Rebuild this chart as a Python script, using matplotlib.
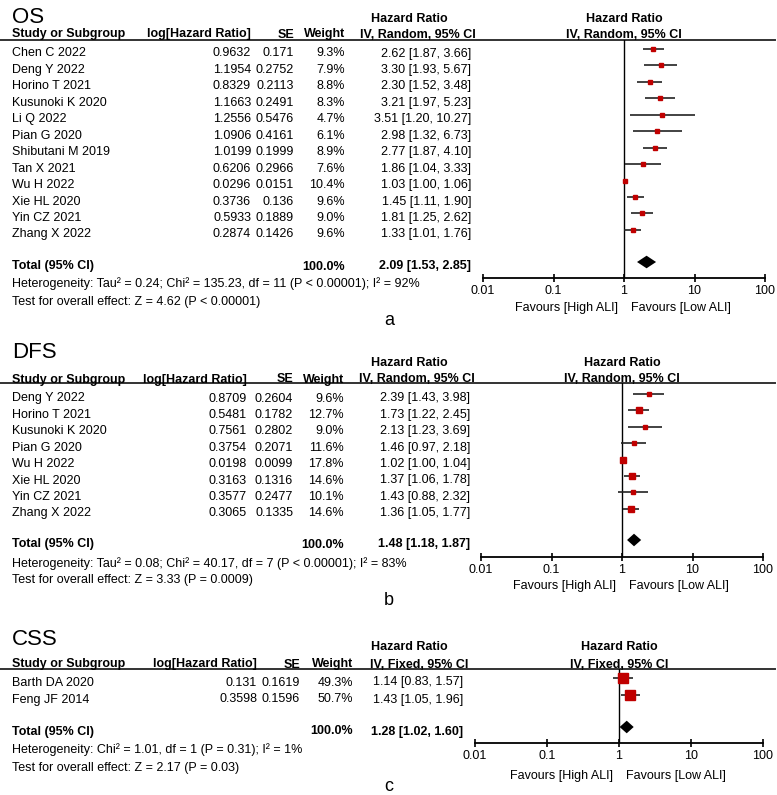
import matplotlib
matplotlib.use("Agg")
import matplotlib.pyplot as plt
from matplotlib.ticker import NullLocator

plt.rcParams['font.family'] = ['Liberation Sans', 'DejaVu Sans']

W, H = 777, 795

# ---- OS ----
os_study = ['Chen C 2022', 'Deng Y 2022', 'Horino T 2021', 'Kusunoki K 2020', 'Li Q 2022',
            'Pian G 2020', 'Shibutani M 2019', 'Tan X 2021', 'Wu H 2022', 'Xie HL 2020',
            'Yin CZ 2021', 'Zhang X 2022']
os_loghr = [0.9632, 1.1954, 0.8329, 1.1663, 1.2556, 1.0906, 1.0199, 0.6206, 0.0296, 0.3736, 0.5933, 0.2874]
os_se = [0.171, 0.2752, 0.2113, 0.2491, 0.5476, 0.4161, 0.1999, 0.2966, 0.0151, 0.136, 0.1889, 0.1426]
os_weight = [9.3, 7.9, 8.8, 8.3, 4.7, 6.1, 8.9, 7.6, 10.4, 9.6, 9.0, 9.6]
os_hr = [2.62, 3.30, 2.30, 3.21, 3.51, 2.98, 2.77, 1.86, 1.03, 1.45, 1.81, 1.33]
os_lo = [1.87, 1.93, 1.52, 1.97, 1.20, 1.32, 1.87, 1.04, 1.00, 1.11, 1.25, 1.01]
os_hi = [3.66, 5.67, 3.48, 5.23, 10.27, 6.73, 4.10, 3.33, 1.06, 1.90, 2.62, 1.76]
os_total = [2.09, 1.53, 2.85]
os_het = 'Heterogeneity: Tau² = 0.24; Chi² = 135.23, df = 11 (P < 0.00001); I² = 92%'
os_test = 'Test for overall effect: Z = 4.62 (P < 0.00001)'

# ---- DFS ----
dfs_study = ['Deng Y 2022', 'Horino T 2021', 'Kusunoki K 2020', 'Pian G 2020', 'Wu H 2022',
             'Xie HL 2020', 'Yin CZ 2021', 'Zhang X 2022']
dfs_loghr = [0.8709, 0.5481, 0.7561, 0.3754, 0.0198, 0.3163, 0.3577, 0.3065]
dfs_se = [0.2604, 0.1782, 0.2802, 0.2071, 0.0099, 0.1316, 0.2477, 0.1335]
dfs_weight = [9.6, 12.7, 9.0, 11.6, 17.8, 14.6, 10.1, 14.6]
dfs_hr = [2.39, 1.73, 2.13, 1.46, 1.02, 1.37, 1.43, 1.36]
dfs_lo = [1.43, 1.22, 1.23, 0.97, 1.00, 1.06, 0.88, 1.05]
dfs_hi = [3.98, 2.45, 3.69, 2.18, 1.04, 1.78, 2.32, 1.77]
dfs_total = [1.48, 1.18, 1.87]
dfs_het = 'Heterogeneity: Tau² = 0.08; Chi² = 40.17, df = 7 (P < 0.00001); I² = 83%'
dfs_test = 'Test for overall effect: Z = 3.33 (P = 0.0009)'

# ---- CSS ----
css_study = ['Barth DA 2020', 'Feng JF 2014']
css_loghr = [0.131, 0.3598]
css_se = [0.1619, 0.1596]
css_weight = [49.3, 50.7]
css_hr = [1.14, 1.43]
css_lo = [0.83, 1.05]
css_hi = [1.57, 1.96]
css_total = [1.28, 1.02, 1.60]
css_het = 'Heterogeneity: Chi² = 1.01, df = 1 (P = 0.31); I² = 1%'
css_test = 'Test for overall effect: Z = 2.17 (P = 0.03)'

fig = plt.figure(figsize=(W / 100, H / 100), dpi=100)
bg = fig.add_axes([0, 0, 1, 1])
bg.set_xlim(0, W)
bg.set_ylim(H, 0)
bg.axis('off')

FS = 9
RED = '#C00000'


def ci_text(h, l, u):
    return f'{h:.2f} [{l:.2f}, {u:.2f}]'


def txt(x, y, s, half=0.36, **kw):
    # y is the visual centre of the capitals; place on the baseline instead
    fs = kw.setdefault('fontsize', FS)
    bg.text(x, y + half * fs * 100 / 72, s, va='baseline', **kw)


def draw_panel(title, method, letter, study, loghr, se, weight, hr, lo, hi, total, het, test,
               y_title, y_hr, y_head, y_line, row0, step, y_total, y_het, y_test, y_axis,
               y_fav, y_letter, cols, x_lo, x_hi):
    c_log, c_se, c_w, c_ci = cols
    txt(12, y_title, title, fontsize=16, ha='left')
    txt(409, y_hr, 'Hazard Ratio', fontweight='bold', ha='center')
    txt(12, y_head, 'Study or Subgroup', fontweight='bold', ha='left')
    txt(c_log, y_head, 'log[Hazard Ratio]', fontweight='bold', ha='right')
    txt(c_se, y_head, 'SE', fontweight='bold', ha='right')
    txt(c_w, y_head, 'Weight', fontweight='bold', ha='right')
    txt(c_ci + 5, y_head, method, fontweight='bold', ha='right')
    bg.plot([0, 775], [y_line, y_line], color='#333333', lw=1.4)

    for i, name in enumerate(study):
        y = row0 + 3 + i * step
        txt(12, y, name, ha='left')
        txt(c_log, y, str(loghr[i]), ha='right')
        txt(c_se, y, str(se[i]), ha='right')
        txt(c_w, y, f'{weight[i]:.1f}%', ha='right')
        txt(c_ci, y, ci_text(hr[i], lo[i], hi[i]), ha='right')

    txt(12, y_total, 'Total (95% CI)', fontweight='bold', ha='left')
    txt(c_w, y_total, '100.0%', fontweight='bold', ha='right')
    txt(c_ci, y_total, ci_text(*total), fontweight='bold', ha='right')
    txt(12, y_het, het, ha='left')
    txt(12, y_test, test, ha='left')
    txt(389, y_letter, letter, half=0.26, fontsize=13, ha='center')

    # forest part
    ax = fig.add_axes([x_lo / W, 1 - y_axis / H, (x_hi - x_lo) / W, (y_axis - y_line) / H])
    ax.set_xscale('log')
    ax.set_xlim(0.01, 100)
    ax.set_ylim((y_axis - row0) / step, (y_line - row0) / step)
    ax.patch.set_alpha(0)
    for s in ['top', 'left', 'right']:
        ax.spines[s].set_visible(False)
    ax.spines['bottom'].set_linewidth(1.3)
    ax.set_xticks([0.01, 0.1, 1, 10, 100])
    ax.set_xticklabels(['0.01', '0.1', '1', '10', '100'])
    ax.xaxis.set_minor_locator(NullLocator())
    ax.tick_params(axis='x', direction='inout', length=6, width=1.2, labelsize=FS, pad=2)
    ax.set_yticks([])
    ax.axvline(1, color='black', lw=1)

    rows = list(range(len(study)))
    ax.hlines(rows, lo, hi, color='#222222', lw=1.2)
    for i in rows:
        ax.plot(hr[i], i, marker='s', ls='none', color=RED,
                markersize=1.03 * weight[i] ** 0.5)
    r = (y_total - 3 - row0) / step
    h = 6.3 / step
    ax.fill([total[1], total[0], total[2], total[0]], [r, r - h, r, r + h],
            color='black', lw=0)

    x_one = x_lo + (x_hi - x_lo) / 2
    txt(x_one, y_hr, 'Hazard Ratio', fontweight='bold', ha='center')
    txt(x_one, y_head, method, fontweight='bold', ha='center')
    txt(x_one - 6, y_fav, 'Favours [High ALI]', ha='right')
    txt(x_one + 7, y_fav, 'Favours [Low ALI]', ha='left')


draw_panel('OS', 'IV, Random, 95% CI', 'a', os_study, os_loghr, os_se, os_weight,
           os_hr, os_lo, os_hi, os_total, os_het, os_test,
           y_title=15, y_hr=17, y_head=33, y_line=40, row0=49, step=16.45,
           y_total=265, y_het=283, y_test=300, y_axis=278, y_fav=307, y_letter=320,
           cols=(251, 294, 345, 471), x_lo=483, x_hi=765)

draw_panel('DFS', 'IV, Random, 95% CI', 'b', dfs_study, dfs_loghr, dfs_se, dfs_weight,
           dfs_hr, dfs_lo, dfs_hi, dfs_total, dfs_het, dfs_test,
           y_title=350, y_hr=362, y_head=378, y_line=383, row0=394, step=16.4,
           y_total=543, y_het=562, y_test=578, y_axis=557, y_fav=585, y_letter=600,
           cols=(247, 293, 344, 470), x_lo=481, x_hi=763)

draw_panel('CSS', 'IV, Fixed, 95% CI', 'c', css_study, css_loghr, css_se, css_weight,
           css_hr, css_lo, css_hi, css_total, css_het, css_test,
           y_title=637, y_hr=646, y_head=663, y_line=669, row0=678, step=17,
           y_total=730, y_het=749, y_test=767, y_axis=743, y_fav=774, y_letter=786,
           cols=(257, 300, 353, 463), x_lo=475, x_hi=763)

fig.savefig('out.png', dpi=100)
